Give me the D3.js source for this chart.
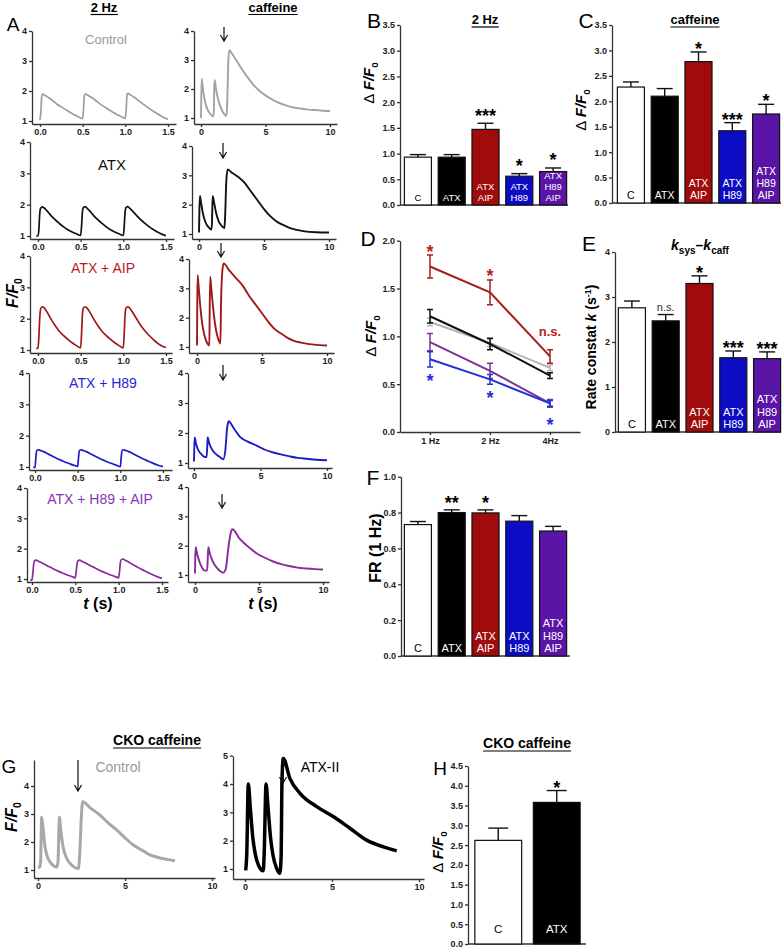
<!DOCTYPE html>
<html><head><meta charset="utf-8">
<script src="https://cdn.jsdelivr.net/npm/d3@7"></script>
<style>
body{margin:0;background:#fff;}
svg{display:block;font-family:Arial,"Liberation Sans",Helvetica,sans-serif;}
.ax .tick text{font-size:9px;font-weight:bold;fill:#222;}
.ax .domain,.ax .tick line{stroke:#333;stroke-width:1.3;}
</style></head><body>
<script>
// ---------------- DATA ----------------
// Panel A, 2 Hz traces [t (s), F/F0]
const twoHzControl = [[-0.01,1.05],[0.0,1.06],[0.01,1.3],[0.02,1.8],[0.03,1.9],[0.05,1.87],[0.08,1.82],[0.12,1.74],[0.16,1.65],[0.2,1.56],[0.25,1.47],[0.3,1.38],[0.35,1.29],[0.4,1.21],[0.45,1.14],[0.5,1.08],[0.51,1.4],[0.52,1.85],[0.53,1.9],[0.56,1.86],[0.6,1.79],[0.65,1.69],[0.7,1.58],[0.75,1.48],[0.8,1.39],[0.85,1.3],[0.9,1.22],[0.95,1.15],[1.0,1.09],[1.01,1.4],[1.02,1.88],[1.03,1.92],[1.06,1.87],[1.1,1.8],[1.15,1.69],[1.2,1.58],[1.25,1.48],[1.3,1.38],[1.35,1.29],[1.4,1.2],[1.45,1.12],[1.5,1.06]];
const twoHzATX = [[-0.02,1.0],[0.0,1.0],[0.01,1.2],[0.02,1.7],[0.03,1.88],[0.05,1.93],[0.07,1.9],[0.1,1.82],[0.15,1.66],[0.2,1.52],[0.25,1.4],[0.3,1.29],[0.35,1.2],[0.4,1.13],[0.45,1.07],[0.5,1.02],[0.51,1.3],[0.52,1.75],[0.53,1.9],[0.55,1.94],[0.57,1.9],[0.6,1.82],[0.65,1.66],[0.7,1.52],[0.75,1.4],[0.8,1.29],[0.85,1.2],[0.9,1.13],[0.95,1.07],[1.0,1.02],[1.01,1.3],[1.02,1.75],[1.03,1.9],[1.05,1.94],[1.07,1.9],[1.1,1.82],[1.15,1.67],[1.2,1.53],[1.25,1.41],[1.3,1.3],[1.35,1.21],[1.4,1.13],[1.45,1.06],[1.5,1.01]];
const twoHzAIP = [[-0.02,1.05],[0.0,1.06],[0.01,1.4],[0.02,2.0],[0.03,2.3],[0.05,2.38],[0.07,2.35],[0.1,2.24],[0.15,2.0],[0.2,1.78],[0.25,1.6],[0.3,1.46],[0.35,1.34],[0.4,1.23],[0.45,1.14],[0.5,1.07],[0.51,1.5],[0.52,2.1],[0.53,2.33],[0.55,2.38],[0.57,2.35],[0.6,2.24],[0.65,2.0],[0.7,1.78],[0.75,1.6],[0.8,1.46],[0.85,1.34],[0.9,1.23],[0.95,1.14],[1.0,1.07],[1.01,1.5],[1.02,2.1],[1.03,2.33],[1.05,2.38],[1.07,2.35],[1.1,2.24],[1.15,2.02],[1.2,1.8],[1.25,1.62],[1.3,1.47],[1.35,1.34],[1.4,1.22],[1.45,1.13],[1.5,1.08]];
const twoHzH89 = [[-0.02,1.0],[0.0,0.98],[0.01,1.3],[0.02,1.52],[0.04,1.55],[0.06,1.53],[0.1,1.49],[0.15,1.42],[0.2,1.35],[0.25,1.28],[0.3,1.22],[0.35,1.16],[0.4,1.11],[0.45,1.06],[0.5,1.02],[0.51,1.3],[0.52,1.52],[0.54,1.55],[0.56,1.53],[0.6,1.49],[0.65,1.42],[0.7,1.35],[0.75,1.28],[0.8,1.22],[0.85,1.16],[0.9,1.11],[0.95,1.06],[1.0,1.01],[1.01,1.3],[1.02,1.52],[1.04,1.55],[1.06,1.53],[1.1,1.49],[1.15,1.42],[1.2,1.35],[1.25,1.28],[1.3,1.22],[1.35,1.16],[1.4,1.1],[1.45,1.05],[1.5,1.01]];
const twoHzH89AIP = [[-0.02,0.96],[0.0,0.97],[0.01,1.2],[0.02,1.5],[0.03,1.6],[0.05,1.62],[0.08,1.58],[0.12,1.52],[0.16,1.46],[0.2,1.4],[0.25,1.33],[0.3,1.26],[0.35,1.2],[0.4,1.14],[0.45,1.09],[0.5,1.04],[0.51,1.25],[0.52,1.5],[0.53,1.6],[0.55,1.62],[0.58,1.58],[0.62,1.52],[0.66,1.46],[0.7,1.4],[0.75,1.33],[0.8,1.26],[0.85,1.2],[0.9,1.14],[0.95,1.09],[1.0,1.04],[1.01,1.25],[1.02,1.55],[1.03,1.64],[1.05,1.66],[1.08,1.61],[1.12,1.55],[1.16,1.48],[1.2,1.42],[1.25,1.34],[1.3,1.27],[1.35,1.2],[1.4,1.13],[1.45,1.07],[1.5,1.02]];
// Panel A, caffeine traces [t (s), F/F0]
const caffControl = [[0,1.0],[0.02,1.6],[0.05,2.35],[0.1,2.2],[0.2,1.85],[0.35,1.5],[0.5,1.3],[0.7,1.15],[0.95,1.05],[1.0,1.3],[1.03,2.1],[1.07,2.3],[1.15,2.05],[1.3,1.7],[1.5,1.4],[1.7,1.2],[1.95,1.08],[2.0,1.2],[2.05,1.8],[2.12,3.0],[2.2,3.35],[2.4,3.22],[2.7,3.02],[3.0,2.8],[3.5,2.47],[4.0,2.18],[4.5,1.95],[5.0,1.78],[5.5,1.64],[6.0,1.53],[6.5,1.45],[7.0,1.38],[7.5,1.34],[8.0,1.31],[8.5,1.28],[9.0,1.27],[9.5,1.25],[10.0,1.24]];
const caffATX = [[0,1.05],[0.03,1.8],[0.07,2.3],[0.15,2.1],[0.3,1.7],[0.5,1.4],[0.7,1.25],[0.95,1.15],[1.0,1.4],[1.05,2.3],[1.15,2.1],[1.3,1.75],[1.5,1.45],[1.7,1.3],[1.95,1.2],[2.0,1.5],[2.1,2.8],[2.2,3.2],[2.5,3.1],[3.0,2.95],[3.5,2.75],[4.0,2.45],[4.5,2.15],[5.0,1.85],[5.5,1.6],[6.0,1.42],[6.5,1.3],[7.0,1.2],[7.5,1.14],[8.0,1.1],[9.0,1.06],[10.0,1.05]];
const caffAIP = [[0,1.05],[0.02,2.5],[0.05,3.45],[0.12,3.1],[0.25,2.4],[0.4,1.8],[0.6,1.35],[0.8,1.12],[0.95,1.05],[0.98,2.4],[1.02,3.4],[1.1,3.0],[1.25,2.3],[1.4,1.75],[1.55,1.4],[1.7,1.2],[1.8,1.12],[1.85,2.5],[1.95,3.6],[2.05,3.85],[2.5,3.6],[3.0,3.35],[3.5,3.1],[4.0,2.75],[4.5,2.45],[5.0,2.15],[5.5,1.85],[6.0,1.6],[6.5,1.45],[7.0,1.3],[7.5,1.2],[8.0,1.15],[9.0,1.08],[10.0,1.05]];
const caffH89 = [[0,1.05],[0.02,1.5],[0.05,1.85],[0.15,1.65],[0.3,1.45],[0.5,1.32],[0.83,1.2],[0.95,1.2],[1.0,1.6],[1.03,1.85],[1.15,1.65],[1.4,1.42],[1.7,1.28],[2.0,1.18],[2.2,1.12],[2.35,1.4],[2.5,2.2],[2.6,2.39],[3.0,2.15],[3.46,1.87],[4.0,1.72],[4.71,1.58],[5.3,1.45],[5.96,1.35],[6.6,1.28],[7.2,1.22],[7.8,1.17],[8.47,1.14],[9.2,1.11],[10.0,1.09]];
const caffH89AIP = [[0,1.05],[0.02,1.6],[0.05,1.95],[0.15,1.75],[0.35,1.45],[0.55,1.25],[0.78,1.15],[0.95,1.15],[1.0,1.6],[1.04,1.95],[1.15,1.75],[1.4,1.45],[1.7,1.25],[2.0,1.12],[2.2,1.08],[2.4,1.2],[2.6,1.9],[2.8,2.45],[2.92,2.56],[3.5,2.23],[4.2,1.95],[4.8,1.74],[5.5,1.58],[6.1,1.46],[6.8,1.36],[7.4,1.3],[8.0,1.25],[8.7,1.22],[9.4,1.2],[10.0,1.19]];
// Panels B, C, E, F: bar groups
const groups = ["C","ATX","ATX AIP","ATX H89","ATX H89 AIP"];
const bMean = [0.93,0.93,1.47,0.56,0.65];
const bErr  = [0.05,0.05,0.12,0.05,0.07];
const bSig  = ["","","***","*","*"];
const cMean = [2.28,2.10,2.78,1.42,1.75];
const cErr  = [0.10,0.15,0.19,0.16,0.19];
const cSig  = ["","","*","***","*"];
const eMean = [2.76,2.47,3.30,1.65,1.63];
const eErr  = [0.15,0.14,0.17,0.15,0.15];
const eSig  = ["","n.s.","*","***","***"];
const fMean = [0.733,0.800,0.798,0.752,0.697];
const fErr  = [0.017,0.015,0.017,0.031,0.026];
const fSig  = ["","**","*","",""];
// Panel D: frequency dependence
const dFreq = ["1 Hz","2 Hz","4Hz"];
const dCtrlMean = [1.15,0.93,0.67], dCtrlErr = [0.04,0.04,0.03];
const dATXMean  = [1.21,0.92,0.59], dATXErr  = [0.07,0.06,0.03];
const dH89AIPMean = [0.94,0.64,0.30], dH89AIPErr = [0.09,0.08,0.04];
const dH89Mean  = [0.76,0.55,0.30], dH89Err  = [0.08,0.05,0.03];
const dAIPMean  = [1.73,1.46,0.79], dAIPErr  = [0.12,0.13,0.07];
// Panel G: CKO caffeine traces
const ckoControl = [[0,1.1],[0.1,1.1],[0.15,1.3],[0.21,2.88],[0.3,2.45],[0.4,1.85],[0.5,1.55],[0.7,1.28],[0.9,1.15],[1.07,1.1],[1.15,1.3],[1.23,2.88],[1.32,2.35],[1.45,1.8],[1.65,1.42],[1.9,1.2],[2.1,1.1],[2.32,1.05],[2.4,1.6],[2.5,3.0],[2.57,3.44],[3.0,3.22],[3.56,2.96],[4.0,2.7],[4.52,2.43],[5.0,2.15],[5.48,1.89],[6.0,1.7],[6.44,1.54],[7.0,1.43],[7.5,1.37],[7.87,1.33]];
const ckoATX = [[0.04,0.95],[0.1,1.5],[0.19,4.0],[0.3,3.2],[0.45,2.1],[0.6,1.5],[0.8,1.1],[1.05,0.94],[1.1,1.5],[1.21,4.0],[1.32,3.2],[1.47,2.1],[1.62,1.45],[1.8,1.05],[2.0,0.85],[2.08,1.5],[2.12,4.0],[2.2,4.9],[2.58,4.2],[3.16,3.67],[4.12,3.2],[5.07,2.85],[6.03,2.44],[6.99,2.02],[7.95,1.78],[8.72,1.64]];
// Panel H
const hGroups = ["C","ATX"];
const hMean = [2.62,3.58];
const hErr  = [0.31,0.30];
const hSig  = ["","*"];

// ---------------- DRAW ----------------
const svg = d3.select("body").append("svg").attr("width",784).attr("height",949);

function txt(x,y,s,opt={}){
  const t = svg.append("text").attr("x",x).attr("y",y).text(s)
    .attr("font-size",opt.size||12).attr("fill",opt.fill||"#000")
    .attr("font-weight",opt.weight||"normal").attr("text-anchor",opt.anchor||"middle");
  if(opt.style) t.attr("font-style",opt.style);
  return t;
}
function underline(t,dy){
  const bb = t.node().getBBox();
  svg.append("line").attr("x1",bb.x).attr("x2",bb.x+bb.width)
    .attr("y1",+t.attr("y")+dy).attr("y2",+t.attr("y")+dy).attr("stroke","#000").attr("stroke-width",1.2);
}
function fOverF0(x,y,size,rot,delta){
  const t = svg.append("text").attr("transform",`translate(${x},${y}) rotate(${rot})`)
    .attr("text-anchor","middle").attr("font-size",size).attr("font-weight","bold");
  if(delta) t.append("tspan").text("\u0394 ").attr("font-weight","normal");
  t.append("tspan").text("F/F").attr("font-style","italic");
  t.append("tspan").text("0").attr("font-size",size*0.65).attr("dy",size*0.28).attr("font-weight","bold");
  return t;
}
function arrow(x,y0,y1){
  svg.append("path").attr("d",`M${x},${y0}L${x},${y1}M${x-3.5},${y1-6}L${x},${y1}L${x+3.5},${y1-6}`)
    .attr("fill","none").attr("stroke","#111").attr("stroke-width",1.2);
}
function traceAxes(c){
  const x0 = d3.scaleLinear().domain(c.xd).range([c.x0,c.x1]);
  const x = d3.scaleLinear().domain([x0.invert(c.ax),x0.invert(c.xEnd)]).range([c.ax,c.xEnd]);
  const y0 = d3.scaleLinear().domain([1,4]).range([c.y1,c.y4]);
  const y = d3.scaleLinear().domain([y0.invert(c.axY),y0.invert(c.yTop)]).range([c.axY,c.yTop]);
  svg.append("g").attr("class","ax").attr("transform",`translate(0,${c.axY})`)
    .call(d3.axisBottom(x).tickValues(c.xTicks).tickFormat(c.xFmt).tickSize(3).tickSizeOuter(0).tickPadding(2));
  svg.append("g").attr("class","ax").attr("transform",`translate(${c.ax},0)`)
    .call(d3.axisLeft(y).tickValues(c.yTicks).tickFormat(d3.format("d")).tickSize(3).tickSizeOuter(0).tickPadding(2));
  return {x,y};
}
function drawTrace(s,data,color,w){
  const line = d3.line().x(d=>s.x(d[0])).y(d=>s.y(d[1])).curve(d3.curveMonotoneX);
  svg.append("path").datum(data).attr("d",line).attr("fill","none")
    .attr("stroke",color).attr("stroke-width",w).attr("stroke-linejoin","round");
}

// ---- Panel A ----
txt(13,31,"A",{size:19});
underline(txt(104,12,"2 Hz",{size:13,weight:"bold"}),2.5);
underline(txt(273,12,"caffeine",{size:13,weight:"bold"}),2.5);
const rowsL = [
 {ax:32,axY:124,x0:40,x1:168,xEnd:176,y1:121,y4:31},
 {ax:30,axY:239,x0:38,x1:166,xEnd:174,y1:236,y4:142},
 {ax:30,axY:353,x0:38,x1:166,xEnd:172,y1:350,y4:256},
 {ax:29,axY:470,x0:35,x1:163,xEnd:172,y1:467,y4:373},
 {ax:27,axY:582,x0:32,x1:162,xEnd:168,y1:579,y4:488}];
const rowsR = [
 {ax:194,axY:124,x0:201,x1:330,xEnd:337,y1:118,y4:31},
 {ax:192,axY:239,x0:199,x1:329,xEnd:336,y1:234,y4:146},
 {ax:189,axY:353,x0:197,x1:327,xEnd:334,y1:347,y4:259},
 {ax:188,axY:468,x0:194,x1:327,xEnd:332,y1:463,y4:373},
 {ax:188,axY:582,x0:195,x1:323,xEnd:329,y1:575,y4:487}];
const twoHz = [twoHzControl,twoHzATX,twoHzAIP,twoHzH89,twoHzH89AIP];
const caff = [caffControl,caffATX,caffAIP,caffH89,caffH89AIP];
const traceCol2 = ["#9c9c9c","#111","#a01818","#1c1cc4","#8a2a9c"];
const traceColC = ["#a3a3a3","#111","#a01818","#1c1cc4","#8a2a9c"];
const rowLabels = [["Control","#999",13,106,44],["ATX","#111",15,112,170],["ATX + AIP","#b41c1c",14,103,273],["ATX + H89","#2626d6",14,103,388],["ATX + H89 + AIP","#8a32b4",14,100,504]];
const arrows = [[224,27,41],[223,143,158],[221,243,257],[223,365,380],[222,494,508]];
rowsL.forEach((c,i)=>{
  const s = traceAxes(Object.assign({xd:[0,1.5],yTop:c.y4,xTicks:[0,0.5,1,1.5],xFmt:d3.format(".1f"),yTicks:[1,2,3,4]},c));
  drawTrace(s,twoHz[i],traceCol2[i],1.7);
  const L=rowLabels[i]; txt(L[3],L[4],L[0],{size:L[2],fill:L[1]});
});
rowsR.forEach((c,i)=>{
  const s = traceAxes(Object.assign({xd:[0,10],yTop:c.y4,xTicks:[0,5,10],xFmt:d3.format("d"),yTicks:[1,2,3,4]},c));
  drawTrace(s,caff[i],traceColC[i],1.9);
  arrow(...arrows[i]);
});
fOverF0(18,293,16,-90,false);
{ const t=svg.append("text").attr("x",98).attr("y",609).attr("text-anchor","middle").attr("font-size",16).attr("font-weight","bold");
  t.append("tspan").text("t").attr("font-style","italic"); t.append("tspan").text(" (s)");
  const t2=svg.append("text").attr("x",263).attr("y",609).attr("text-anchor","middle").attr("font-size",16).attr("font-weight","bold");
  t2.append("tspan").text("t").attr("font-style","italic"); t2.append("tspan").text(" (s)"); }

// ---- Bar panels ----
const barFill = ["#ffffff","#000000","#a00c0c","#0c0cc4","#5a14a6"];
const barTxt  = ["#000","#fff","#fff","#fff","#fff"];
function barPanel(c,cats,mean,err,sig,fills){
  const y = d3.scaleLinear().domain([0,c.ymax]).range([c.base,c.top]);
  const x = d3.scaleBand().domain(cats).range(c.xr).paddingInner(0.2).paddingOuter(0.1);
  svg.append("line").attr("x1",c.ax).attr("x2",c.xEnd).attr("y1",c.base).attr("y2",c.base).attr("stroke","#333").attr("stroke-width",1.3);
  const g = svg.append("g");
  cats.forEach((k,i)=>{
    const xc = x(k)+x.bandwidth()/2, yt=y(mean[i]+err[i]);
    g.append("line").attr("x1",xc).attr("x2",xc).attr("y1",y(mean[i])).attr("y2",yt).attr("stroke","#111").attr("stroke-width",1.4);
    g.append("line").attr("x1",xc-c.cap).attr("x2",xc+c.cap).attr("y1",yt).attr("y2",yt).attr("stroke","#111").attr("stroke-width",1.4);
    g.append("rect").attr("x",x(k)).attr("y",y(mean[i])).attr("width",x.bandwidth()).attr("height",c.base-y(mean[i]))
      .attr("fill",fills[i]).attr("stroke","#111").attr("stroke-width",1.2);
    const lines = k.split(" ");
    lines.forEach((l,j)=>{
      txt(xc,c.base-c.lb-(lines.length-1-j)*c.ls,l,{size:c.fs,fill:barTxt[i]});
    });
    if(sig[i]){
      if(sig[i]==="n.s.") txt(xc,yt-4,"n.s.",{size:11,fill:"#333"});
      else txt(xc,yt+c.sOff,sig[i],{size:18,weight:"bold"});
    }
  });
  svg.append("g").attr("class","ax").attr("transform",`translate(${c.ax},0)`)
    .call(d3.axisLeft(y).tickValues(c.ticks).tickFormat(d3.format(c.fmt)).tickSize(3).tickSizeOuter(0).tickPadding(2));
  return {x,y};
}
// B
txt(374,28,"B",{size:21});
underline(txt(485,24,"2 Hz",{size:13,weight:"bold"}),3);
barPanel({ax:400,xEnd:568,base:205,top:25,ymax:3.5,xr:[401,570],ticks:d3.range(0,3.51,0.5),fmt:".1f",lb:4.5,ls:10.6,fs:9.5,cap:8,sOff:-1.5},groups,bMean,bErr,bSig,barFill);
fOverF0(374,83,15,-90,true);
// C
txt(586,28,"C",{size:21});
underline(txt(695,24,"caffeine",{size:13,weight:"bold"}),3);
barPanel({ax:612,xEnd:781,base:203,top:25,ymax:3.5,xr:[614,783],ticks:d3.range(0,3.51,0.5),fmt:".1f",lb:4,ls:11.8,fs:10.5,cap:8,sOff:3},groups,cMean,cErr,cSig,barFill);
fOverF0(586,110,15,-90,true);
// E
txt(589,251,"E",{size:21});
{ const t=svg.append("text").attr("x",700).attr("y",250).attr("text-anchor","middle").attr("font-size",14).attr("font-weight","bold");
  t.append("tspan").text("k").attr("font-style","italic");
  t.append("tspan").text("sys").attr("font-size",10).attr("dy",4);
  t.append("tspan").text("\u2013").attr("dy",-4);
  t.append("tspan").text("k").attr("font-style","italic");
  t.append("tspan").text("caff").attr("font-size",10).attr("dy",4); }
barPanel({ax:615,xEnd:781,base:432,top:252,ymax:4,xr:[615,784],ticks:[0,1,2,3,4],fmt:"d",lb:4,ls:12.3,fs:11,cap:8,sOff:3},groups,eMean,eErr,eSig,barFill);
{ const t=svg.append("text").attr("transform","translate(596,347) rotate(-90)").attr("text-anchor","middle").attr("font-size",14).attr("font-weight","bold");
  t.append("tspan").text("Rate constat ");
  t.append("tspan").text("k").attr("font-style","italic");
  t.append("tspan").text(" (s");
  t.append("tspan").text("-1").attr("font-size",9).attr("dy",-5);
  t.append("tspan").text(")").attr("dy",5); }
// F
txt(373,485,"F",{size:21});
barPanel({ax:401,xEnd:570,base:656,top:476.7,ymax:1.0,xr:[401,570],ticks:d3.range(0,1.01,0.2),fmt:".1f",lb:4,ls:12.3,fs:11,cap:8,sOff:-1},groups,fMean,fErr,fSig,barFill);
svg.append("text").attr("transform","translate(381,548) rotate(-90)").attr("text-anchor","middle").attr("font-size",16).attr("font-weight","bold").text("FR (1 Hz)");

// ---- Panel D ----
txt(368,246,"D",{size:21});
{
  const y = d3.scaleLinear().domain([0,2]).range([432,240.7]);
  const x = d3.scalePoint().domain(dFreq).range([400,580]).padding(0.5);
  svg.append("g").attr("class","ax").attr("transform","translate(0,432)")
    .call(d3.axisBottom(x).tickSize(3).tickSizeOuter(0).tickPadding(3));
  svg.append("g").attr("class","ax").attr("transform","translate(400,0)")
    .call(d3.axisLeft(y).tickValues([0,0.5,1,1.5,2]).tickFormat(d3.format(".1f")).tickSize(3).tickSizeOuter(0).tickPadding(2));
  const series = [[dCtrlMean,dCtrlErr,"#b4b4b4"],[dATXMean,dATXErr,"#111"],[dH89AIPMean,dH89AIPErr,"#80309c"],[dH89Mean,dH89Err,"#2233d4"],[dAIPMean,dAIPErr,"#a51e1a"]];
  series.forEach(([m,e,col])=>{
    const pts = dFreq.map((f,i)=>[x(f),y(m[i]),y(m[i]+e[i]),y(m[i]-e[i])]);
    svg.append("path").datum(pts).attr("d",d3.line().x(d=>d[0]).y(d=>d[1])).attr("fill","none").attr("stroke",col).attr("stroke-width",2);
    pts.forEach(p=>{
      svg.append("path").attr("d",`M${p[0]},${p[2]}L${p[0]},${p[3]}M${p[0]-3},${p[2]}L${p[0]+3},${p[2]}M${p[0]-3},${p[3]}L${p[0]+3},${p[3]}`)
        .attr("stroke",col).attr("stroke-width",1.5).attr("fill","none");
    });
  });
  const red="#c0201c", blue="#1f2fe0";
  txt(x("1 Hz"),y(dAIPMean[0]+dAIPErr[0])+3,"*",{size:18,weight:"bold",fill:red});
  txt(x("2 Hz"),y(dAIPMean[1]+dAIPErr[1])+2,"*",{size:18,weight:"bold",fill:red});
  txt(x("4Hz"),y(dAIPMean[2]+dAIPErr[2])-14,"n.s.",{size:13,weight:"bold",fill:red});
  txt(x("1 Hz"),y(dH89Mean[0]-dH89Err[0])+20,"*",{size:18,weight:"bold",fill:blue});
  txt(x("2 Hz"),y(dH89Mean[1]-dH89Err[1])+20,"*",{size:18,weight:"bold",fill:blue});
  txt(x("4Hz"),y(dH89Mean[2]-dH89Err[2])+25,"*",{size:18,weight:"bold",fill:blue});
  fOverF0(376,336,15,-90,true);
}

// ---- Panel G ----
txt(9,773,"G",{size:19});
underline(txt(157,745,"CKO caffeine",{size:14,weight:"bold"}),3);
{
  const s = traceAxes({ax:34,axY:878,x0:38,x1:212,xEnd:215,xd:[0,10],y1:870,y4:786,yTop:760,xTicks:[0,5,10],xFmt:d3.format("d"),yTicks:[1,2,3,4]});
  drawTrace(s,ckoControl,"#a8a8a8",3);
  arrow(78,760,791);
  txt(118,772,"Control",{size:14,fill:"#999"});
  const s2 = traceAxes({ax:233,axY:879,x0:245,x1:419,xEnd:424,xd:[0,10],y1:869,y4:784,yTop:756,xTicks:[0,5,10],xFmt:d3.format("d"),yTicks:[1,2,3,4,5]});
  drawTrace(s2,ckoATX,"#000",3.5);
  arrow(283,758,783);
  txt(320,772,"ATX-II",{size:14});
  fOverF0(17,817,16,-90,false);
}
// ---- Panel H ----
txt(440,775,"H",{size:19});
underline(txt(527,748,"CKO caffeine",{size:14,weight:"bold"}),3);
barPanel({ax:468,xEnd:586,base:944,top:766,ymax:4.5,xr:[469,586],ticks:d3.range(0,4.51,0.5),fmt:".1f",lb:11,ls:11,fs:11.5,cap:10,sOff:3},hGroups,hMean,hErr,hSig,["#fff","#000"]);
fOverF0(443,852,15,-90,true);
</script></body></html>
